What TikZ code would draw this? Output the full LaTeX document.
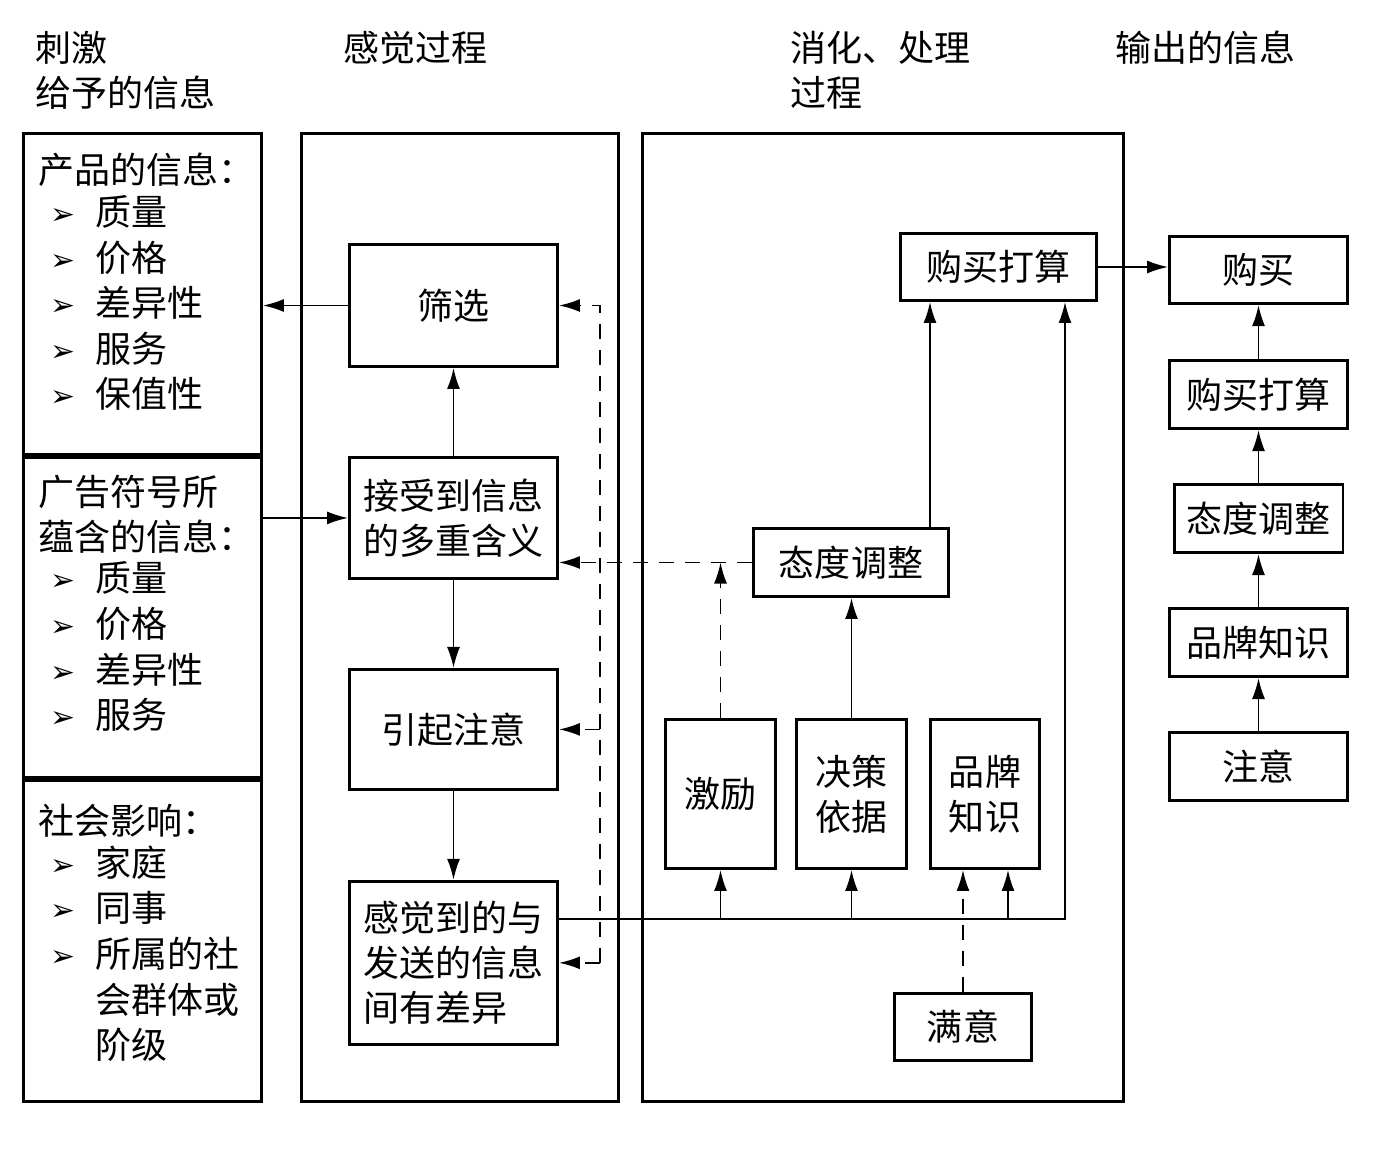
\documentclass[tikz,border=0pt]{standalone}
\usepackage{fontspec}
\newfontfamily\cjk{Noto Sans CJK SC}
\newfontfamily\symfont{DejaVu Sans}
\usetikzlibrary{arrows.meta, positioning}
\newcommand{\cjksize}{\cjk\fontsize{20.5}{25.6}\selectfont}
\newcommand{\bul}{\makebox[0.9cm][l]{\symfont\fontsize{17}{17}\selectfont\raisebox{0.5pt}{➢}}}
\tikzstyle{frame} = [rectangle, draw=black, line width=1.7pt, inner sep=0pt]
\tikzstyle{stage} = [rectangle, draw=black, line width=1.7pt, inner sep=0pt, align=center, font=\cjksize]
\tikzstyle{headtext} = [anchor=west, inner sep=0pt, align=left, font=\cjksize]
\tikzstyle{arrow} = [line width=1pt, -{Latex[length=4.2mm,width=2.6mm]}]
\tikzstyle{fbarrow} = [arrow, dash pattern=on 3mm off 2.2mm]

\begin{document}
\begin{tikzpicture}[x=0.02cm, y=-0.02cm]
    \useasboundingbox (0,0) rectangle (1379,1152);

    % Headings
    \node (hstim) [headtext] at (35,70.5) {刺激\\给予的信息};
    \node (hsense) [headtext] at (343,48) {感觉过程};
    \node (hdigest) [headtext] at (790,70.5) {消化、处理\\过程};
    \node (hout) [headtext] at (1115,48) {输出的信息};

    % Frames
    \node (prod) [frame, minimum width=4.76cm, minimum height=6.42cm] at (142.5,294) {};
    \node (ad) [frame, minimum width=4.76cm, minimum height=6.40cm] at (142.5,617.5) {};
    \node (social) [frame, minimum width=4.76cm, minimum height=6.42cm] at (142.5,941) {};
    \node (sense) [frame, minimum width=6.34cm, minimum height=19.36cm] at (460,617.5) {};
    \node (digest) [frame, minimum width=9.62cm, minimum height=19.36cm] at (883,617.5) {};

    % Stimulus texts
    \node (prodtitle) [headtext] at (38,170) {产品的信息：};
    \node (prod1) [headtext] at (50,212) {\bul 质量};
    \node (prod2) [headtext] at (50,258) {\bul 价格};
    \node (prod3) [headtext] at (50,303) {\bul 差异性};
    \node (prod4) [headtext] at (50,349) {\bul 服务};
    \node (prod5) [headtext] at (50,394) {\bul 保值性};
    \node (adtitle) [headtext] at (38,514) {广告符号所\\蕴含的信息：};
    \node (ad1) [headtext] at (50,578) {\bul 质量};
    \node (ad2) [headtext] at (50,624) {\bul 价格};
    \node (ad3) [headtext] at (50,670) {\bul 差异性};
    \node (ad4) [headtext] at (50,715) {\bul 服务};
    \node (soctitle) [headtext] at (38,821) {社会影响：};
    \node (soc1) [headtext] at (50,863) {\bul 家庭};
    \node (soc2) [headtext] at (50,908) {\bul 同事};
    \node (soc3) [headtext] at (50,954) {\bul 所属的社};
    \node (soc3b) [headtext] at (95,1000) {会群体或};
    \node (soc3c) [headtext] at (95,1045) {阶级};

    % Sensing
    \node (filter) [stage, minimum width=4.16cm, minimum height=2.44cm] at (453.5,305.5) {筛选};
    \node (accept) [stage, minimum width=4.16cm, minimum height=2.42cm, below=1.76cm of filter] {接受到信息\\的多重含义};
    \node (attn) [stage, minimum width=4.16cm, minimum height=2.40cm, below=1.76cm of accept] {引起注意};
    \node (differ) [stage, align=left, minimum width=4.16cm, minimum height=3.26cm, below=1.78cm of attn] {感觉到的与\\发送的信息\\间有差异};

    % Processing
    \node (plan) [stage, minimum width=3.92cm, minimum height=1.34cm] at (998.5,267) {购买打算};
    \node (attitude) [stage, minimum width=3.90cm, minimum height=1.36cm] at (851,562.5) {态度调整};
    \node (motive) [stage, minimum width=2.20cm, minimum height=2.98cm] at (720.5,794) {激励};
    \node (basis) [stage, minimum width=2.20cm, minimum height=2.98cm] at (851.5,794) {决策\\依据};
    \node (brand) [stage, minimum width=2.18cm, minimum height=2.98cm] at (985,794) {品牌\\知识};
    \node (satisfy) [stage, minimum width=2.74cm, minimum height=1.34cm] at (963,1027) {满意};

    % Output
    \node (notice) [stage, minimum width=3.56cm, minimum height=1.36cm] at (1258.5,766.5) {注意};
    \node (brand2) [stage, minimum width=3.56cm, minimum height=1.36cm, above=1.06cm of notice] {品牌知识};
    \node (attitude2) [stage, minimum width=3.38cm, minimum height=1.36cm, above=1.06cm of brand2] {态度调整};
    \node (plan2) [stage, minimum width=3.56cm, minimum height=1.36cm, above=1.06cm of attitude2] {购买打算};
    \node (buy) [stage, minimum width=3.56cm, minimum height=1.34cm, above=1.08cm of plan2] {购买};

    % Arrows
    \draw [arrow] (filter.west) -- (filter.west -| prod.east);
    \draw [arrow] (ad.east |- accept.west) -- (accept.west);
    \draw [arrow] (accept) -- (filter);
    \draw [arrow] (accept) -- (attn);
    \draw [arrow] (attn) -- (differ);

    \coordinate (bus) at (1065,919);
    \draw [arrow] (differ.east |- bus) -- (bus) -- (bus |- plan.south);
    \draw [arrow] (motive.south |- bus) -- (motive.south);
    \draw [arrow] (basis.south |- bus) -- (basis.south);
    \coordinate (brandin) at ([xshift=0.46cm]brand.south);
    \draw [arrow] (brandin |- bus) -- (brandin);
    \draw [arrow] (basis.north) -- (basis.north |- attitude.south);
    \coordinate (attout) at ([xshift=1.58cm]attitude.north);
    \draw [arrow] (attout) -- (attout |- plan.south);
    \draw [arrow] (plan.east) -- (plan.east -| buy.west);

    \draw [arrow] (notice) -- (brand2);
    \draw [arrow] (brand2) -- (attitude2);
    \draw [arrow] (attitude2) -- (plan2);
    \draw [arrow] (plan2) -- (buy);

    % Feedback
    \coordinate (fbx) at (600,0);
    \draw [fbarrow] (fbx |- differ.east) -- (fbx |- filter.east) -- (filter.east);
    \draw [fbarrow] (fbx |- attn.east) -- (attn.east);
    \draw [fbarrow] (fbx |- differ.east) -- (differ.east);
    \draw [fbarrow] (attitude.west) -- (attitude.west -| accept.east);
    \draw [fbarrow] (motive.north) -- (motive.north |- attitude.west);
    \draw [fbarrow] (satisfy.north) -- (satisfy.north |- brand.south);

\end{tikzpicture}
\end{document}
